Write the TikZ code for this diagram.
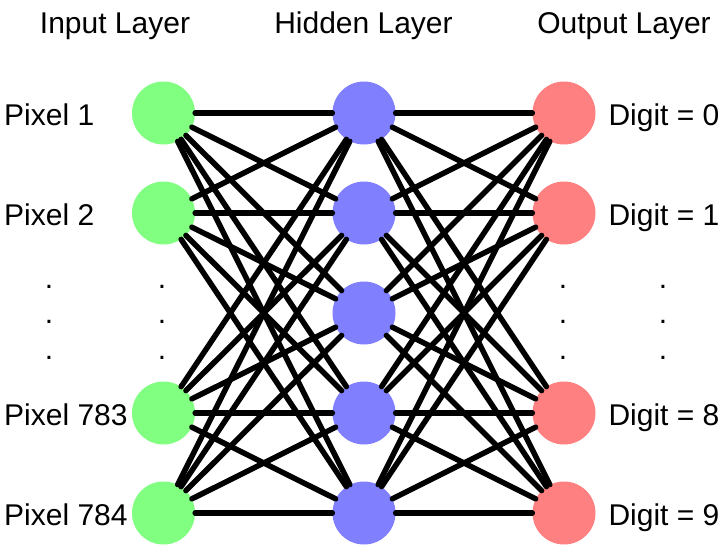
\documentclass[tikz,border=0pt]{standalone}
\usepackage{fontspec}
\setmainfont{Liberation Sans}
\definecolor{incol}{RGB}{128,255,128}
\definecolor{hidcol}{RGB}{128,128,255}
\definecolor{outcol}{RGB}{255,128,128}
\begin{document}
\begin{tikzpicture}[x=1pt,y=-1pt,
neuron/.style={circle,inner sep=0pt,minimum size=63pt},
link/.style={line width=5.5pt,line cap=round},
lbl/.style={inner sep=0pt,font=\fontsize{30}{34}\selectfont}]
\useasboundingbox(0,0)rectangle(727,546);
\foreach\i/\y in{1/113,2/213,3/413,4/513}{
\node[neuron,fill=incol](in\i)at(163.5,\y){};
\node[neuron,fill=outcol](out\i)at(564,\y){};}
\foreach\j/\y in{1/113,2/213,3/313,4/413,5/513}{
\node[neuron,fill=hidcol](hid\j)at(364,\y){};}
\foreach\i in{1,...,4}{
\foreach\j in{1,...,5}{
\draw[link](in\i)--(hid\j);
\draw[link](hid\j)--(out\i);}}
\node[lbl,anchor=base](tin)at(115,33){Input Layer};
\node[lbl,anchor=base](thid)at(363.5,33){Hidden Layer};
\node[lbl,anchor=base](tout)at(624,33){Output Layer};
\foreach\i/\t/\y in{1/1/125,2/2/225,3/783/425,4/784/525}{
\node[lbl,anchor=base west](px\i)at(4,\y){Pixel \t};}
\foreach\i/\t/\y in{1/0/125,2/1/225,3/8/425,4/9/525}{
\node[lbl,anchor=base](dg\i)at(664,\y){Digit = \t};}
\foreach\x in{49,162,563,663}{
\foreach\y in{287,322,358}{
\node[lbl](dot-\x-\y)at(\x,\y){.};}}
\end{tikzpicture}
\end{document}
